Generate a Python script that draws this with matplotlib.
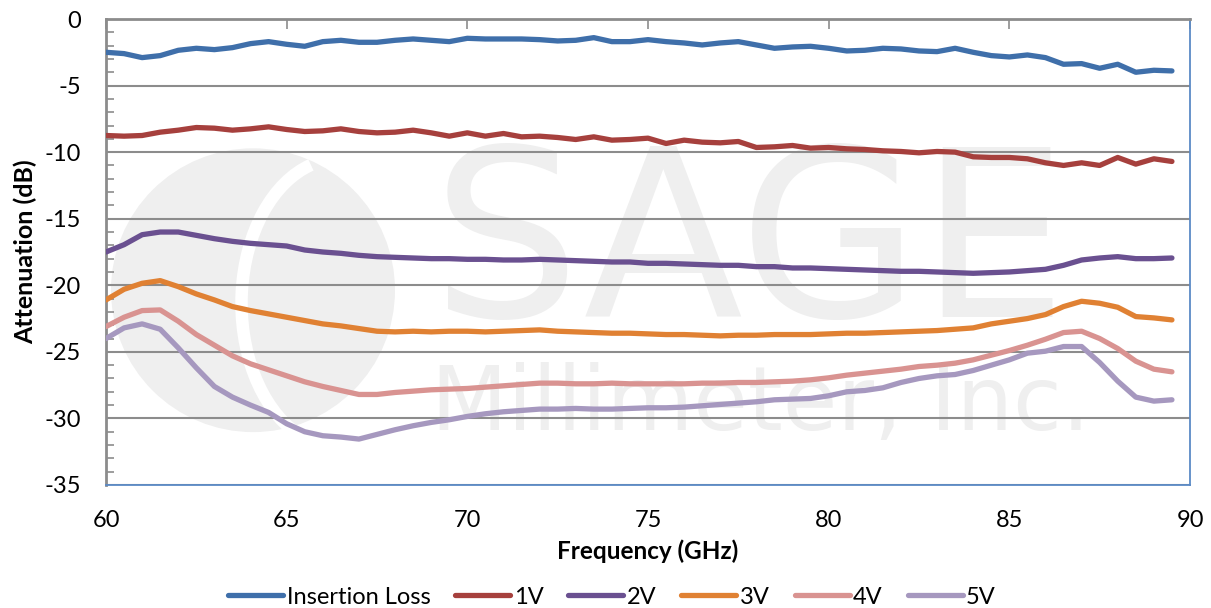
import numpy as np
import matplotlib
matplotlib.use("Agg")
import matplotlib.pyplot as plt
from matplotlib.patches import Ellipse, Arc
from matplotlib.ticker import MultipleLocator

plt.rcParams["font.family"] = ["Lato", "DejaVu Sans"]
plt.rcParams["axes.unicode_minus"] = False

# frequency grid (GHz), 0.5 GHz steps
freq = np.arange(60, 89.6, 0.5)

insertion_loss = [
    -2.5, -2.6, -2.9, -2.75, -2.35, -2.2, -2.3, -2.15, -1.85, -1.7,
    -1.9, -2.05, -1.7, -1.6, -1.75, -1.75, -1.6, -1.5, -1.6, -1.7,
    -1.45, -1.5, -1.5, -1.5, -1.55, -1.65, -1.6, -1.4, -1.7, -1.7,
    -1.55, -1.7, -1.8, -1.95, -1.8, -1.7, -1.95, -2.2, -2.1, -2.05,
    -2.2, -2.4, -2.35, -2.2, -2.25, -2.4, -2.45, -2.2, -2.5, -2.75,
    -2.85, -2.7, -2.9, -3.4, -3.35, -3.7, -3.4, -4.0, -3.85, -3.9,
]
v1 = [
    -8.75, -8.8, -8.75, -8.5, -8.35, -8.15, -8.2, -8.35, -8.25, -8.1,
    -8.3, -8.45, -8.4, -8.25, -8.45, -8.55, -8.5, -8.35, -8.55, -8.8,
    -8.55, -8.8, -8.6, -8.85, -8.8, -8.9, -9.05, -8.85, -9.1, -9.05,
    -8.95, -9.35, -9.1, -9.25, -9.3, -9.2, -9.65, -9.6, -9.5, -9.7,
    -9.65, -9.75, -9.8, -9.9, -9.95, -10.05, -9.95, -10.0, -10.35, -10.4,
    -10.4, -10.5, -10.8, -11.0, -10.8, -11.0, -10.4, -10.9, -10.5, -10.7,
]
v2 = [
    -17.5, -16.95, -16.2, -16.0, -16.0, -16.25, -16.5, -16.7, -16.85, -16.95,
    -17.05, -17.35, -17.5, -17.6, -17.75, -17.85, -17.9, -17.95, -18.0, -18.0,
    -18.05, -18.05, -18.1, -18.1, -18.05, -18.1, -18.15, -18.2, -18.25, -18.25,
    -18.35, -18.35, -18.4, -18.45, -18.5, -18.5, -18.6, -18.6, -18.7, -18.7,
    -18.75, -18.8, -18.85, -18.9, -18.95, -18.95, -19.0, -19.05, -19.1, -19.05,
    -19.0, -18.9, -18.8, -18.5, -18.1, -17.95, -17.85, -18.0, -18.0, -17.95,
]
v3 = [
    -21.1, -20.3, -19.85, -19.65, -20.1, -20.65, -21.1, -21.6, -21.9, -22.15,
    -22.4, -22.65, -22.9, -23.05, -23.25, -23.45, -23.5, -23.45, -23.5, -23.45,
    -23.45, -23.5, -23.45, -23.4, -23.35, -23.45, -23.5, -23.55, -23.6, -23.6,
    -23.65, -23.7, -23.7, -23.75, -23.8, -23.75, -23.75, -23.7, -23.7, -23.7,
    -23.65, -23.6, -23.6, -23.55, -23.5, -23.45, -23.4, -23.3, -23.2, -22.9,
    -22.7, -22.5, -22.2, -21.6, -21.2, -21.35, -21.65, -22.35, -22.45, -22.6,
]
v4 = [
    -23.1, -22.4, -21.9, -21.85, -22.7, -23.7, -24.5, -25.3, -25.9, -26.35,
    -26.8, -27.25, -27.6, -27.9, -28.2, -28.2, -28.05, -27.95, -27.85, -27.8,
    -27.75, -27.65, -27.55, -27.45, -27.35, -27.35, -27.4, -27.4, -27.35, -27.4,
    -27.4, -27.4, -27.4, -27.35, -27.35, -27.3, -27.3, -27.25, -27.2, -27.1,
    -26.95, -26.75, -26.6, -26.45, -26.3, -26.1, -26.0, -25.85, -25.6, -25.25,
    -24.9, -24.5, -24.05, -23.55, -23.45, -24.0, -24.75, -25.7, -26.3, -26.5,
]
v5 = [
    -24.0, -23.2, -22.9, -23.3, -24.7, -26.2, -27.6, -28.4, -29.0, -29.55,
    -30.4, -31.0, -31.3, -31.4, -31.55, -31.2, -30.85, -30.55, -30.3, -30.1,
    -29.85, -29.65, -29.5, -29.4, -29.3, -29.3, -29.25, -29.3, -29.3, -29.25,
    -29.2, -29.2, -29.15, -29.05, -28.95, -28.85, -28.75, -28.6, -28.55, -28.5,
    -28.3, -28.0, -27.9, -27.7, -27.3, -27.0, -26.8, -26.7, -26.4, -26.0,
    -25.6, -25.1, -24.95, -24.6, -24.6, -25.8, -27.2, -28.4, -28.7, -28.6,
]

series_names = ["Insertion Loss", "1V", "2V", "3V", "4V", "5V"]
series_values = [insertion_loss, v1, v2, v3, v4, v5]
colors = ["#3F6FAA", "#A6403D", "#6A5090", "#E08133", "#D99391", "#A698BF"]

fig = plt.figure(figsize=(12.11, 6.08), dpi=100)
ax = fig.add_axes([106 / 1211, 1 - 485 / 608, 1084 / 1211, 466 / 608])

# faint company watermark behind the data
wm = "#efefef"
ax.add_patch(Ellipse((0.1356, 0.418), 0.262, 0.609, transform=ax.transAxes,
                     facecolor=wm, edgecolor="none", zorder=0.1))
ax.add_patch(Arc((0.215, 0.39), 0.18, 0.62, theta1=95, theta2=262,
                 transform=ax.transAxes, color="white", lw=9, zorder=0.2))
ax.text(0.30, 0.36, "SAGE", transform=ax.transAxes, fontsize=168,
        family="DejaVu Sans", color=wm, va="baseline", ha="left", zorder=0.3)
ax.text(0.30, 0.118, "Millimeter, Inc.", transform=ax.transAxes, fontsize=64,
        family="DejaVu Sans", color=wm, va="baseline", ha="left", zorder=0.3)

for name, vals, c in zip(series_names, series_values, colors):
    ax.plot(freq, vals, color=c, lw=3.8, label=name, solid_capstyle="round", zorder=3)

ax.set_xlim(60, 90)
ax.set_ylim(-35, 0)
ax.xaxis.set_major_locator(MultipleLocator(5))
ax.yaxis.set_major_locator(MultipleLocator(5))
ax.yaxis.set_minor_locator(MultipleLocator(1))

ax.grid(axis="y", which="major", color="#8c8c8c", lw=1.5, zorder=1)
ax.set_axisbelow(True)

ax.tick_params(axis="x", which="major", top=True, bottom=False, labeltop=False,
               labelbottom=True, direction="in", length=7, width=1.2,
               color="#8c8c8c", labelsize=17, pad=18)
ax.tick_params(axis="y", which="major", length=0, labelsize=17, pad=18)
ax.tick_params(axis="y", which="minor", direction="in", length=6, width=1.2,
               color="#8c8c8c")

for side in ["left", "top"]:
    ax.spines[side].set_color("#8c8c8c")
    ax.spines[side].set_linewidth(2)
for side in ["right", "bottom"]:
    ax.spines[side].set_color("#5b8ac6")
    ax.spines[side].set_linewidth(1.3)

ax.set_xlabel("Frequency (GHz)", fontsize=17.5, fontweight="bold", labelpad=6)
ax.set_ylabel("Attenuation (dB)", fontsize=18, fontweight="bold", labelpad=5)

fig.legend(loc="center", bbox_to_anchor=(0.5054, 1 - 597 / 608), ncol=6,
           frameon=False, fontsize=17, handlelength=2.33, handletextpad=0.15,
           columnspacing=1.05)

fig.savefig("out.png", dpi=100)
